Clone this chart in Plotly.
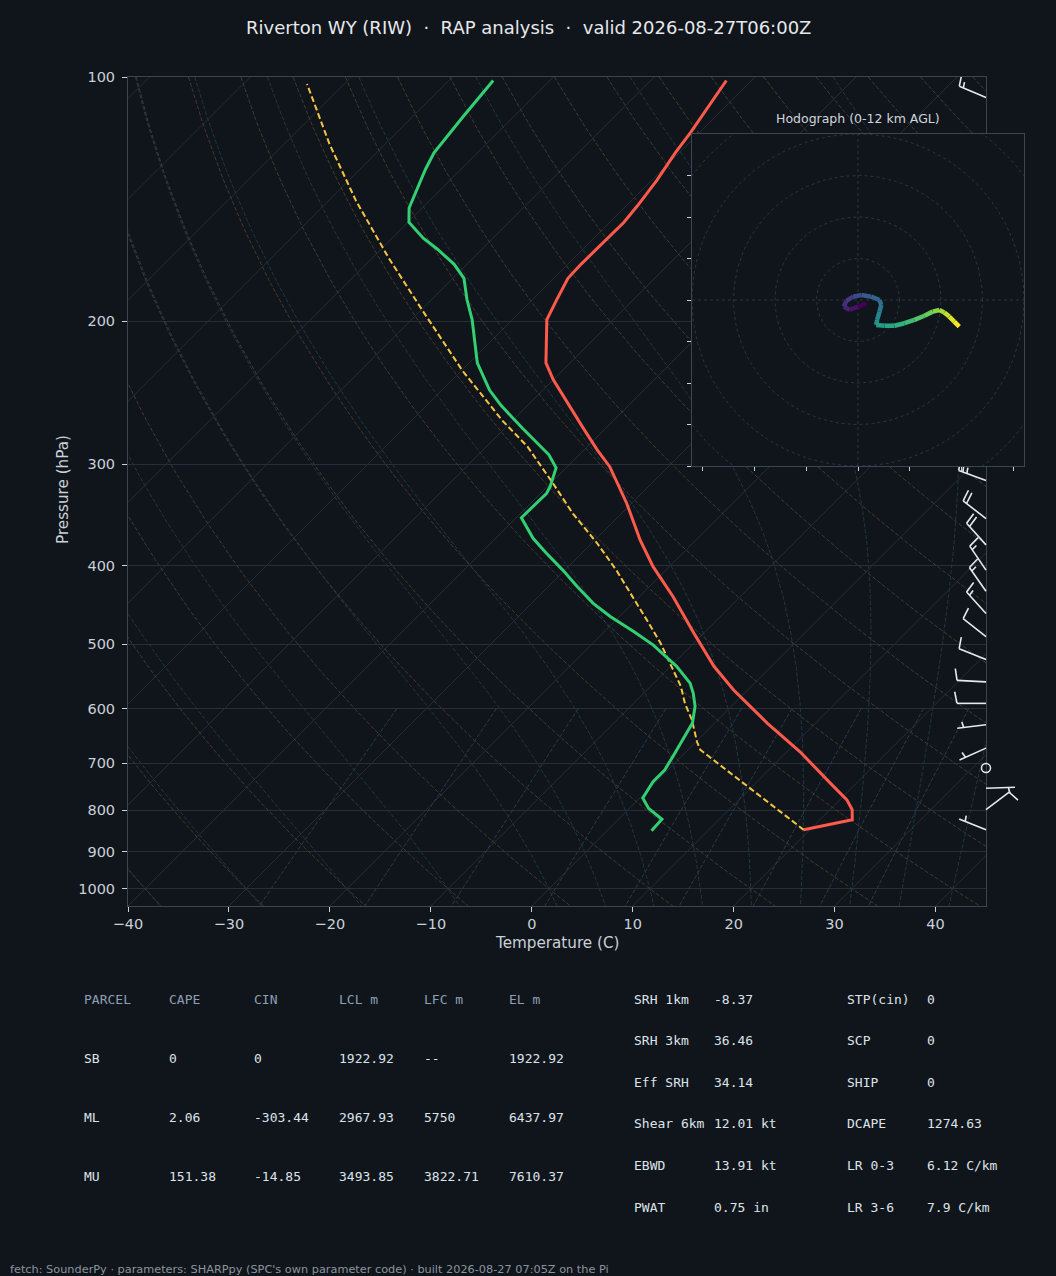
import numpy as np
import plotly.graph_objects as go
from plotly.colors import sample_colorscale

W, H = 1056, 1276
BG = "#10151b"

# ---- sounding (hPa, degC) ----
pres = [846, 822, 799, 777, 741, 678, 625, 569, 532, 484, 437, 401, 372, 335,
        302, 288, 270, 252, 236, 225, 199, 188, 177, 170, 160, 151, 144, 134,
        124, 117, 101]
temp = [19.4, 23.2, 22.2, 20.7, 17.4, 11.3, 5.2, -1.4, -5.7, -11.0, -16.6, -21.6,
        -25.5, -30.5, -35.8, -38.7, -42.4, -46.3, -50.0, -52.4, -56.6, -57.6,
        -58.6, -58.7, -58.6, -58.6, -58.9, -59.5, -60.4, -60.9, -62.5]

dew_pres = [848, 821, 796, 773, 738, 714, 684, 662, 625, 596, 574, 558, 532,
            501, 482, 462, 445, 424, 405, 386, 370, 349, 326, 320, 303, 292,
            271, 254, 243, 225, 199, 188, 177, 170, 163, 158, 151, 145, 138,
            130, 124, 119, 112, 101]
dewp = [4.4, 4.3, 1.9, 0.3, -0.3, -0.3, -0.9, -1.4, -2.2, -3.6, -5.1, -6.4, -9.4,
        -13.8, -17.1, -20.9, -23.9, -27.2, -30.2, -33.5, -36.3, -39.5, -39.4,
        -39.7, -41.0, -43.0, -48.2, -52.6, -55.3, -59.2, -64.0, -66.5, -68.9,
        -71.3, -74.4, -76.9, -79.9, -81.3, -82.3, -83.5, -84.3, -84.6, -85.0, -85.6]

parcel_pres = [846, 674, 659, 619, 591, 563, 527, 498, 466, 437, 405, 375, 345,
               317, 285, 265, 230, 194, 167, 142, 121, 102]
parcel_temp = [19.4, 1.2, 0.1, -2.6, -4.9, -7.0, -10.4, -13.3, -17.0, -20.6,
               -24.9, -29.5, -34.8, -39.7, -46.0, -51.0, -59.9, -69.8, -78.4,
               -87.3, -95.5, -103.7]

# wind barbs (hPa, deg from, kt)
barb_pres = [106, 314, 350, 377, 405, 430, 458, 489, 522, 556, 591, 628, 671,
             710, 752, 799, 846]
barb_dir = [293, 290, 308, 318, 326, 325, 318, 308, 292, 273, 270, 263, 246,
            0, 88, 53, 292]
barb_spd = [15, 25, 20, 20, 15, 15, 15, 10, 10, 10, 10, 5, 5, 0, 5, 10, 5]

# hodograph u/v (0-12 km)
hodo_u = [2.0, 0.0, -2.0, -3.4, -2.8, -1.2, 0.8, 3.2, 5.2, 5.6, 5.2, 4.6, 4.4,
          6.4, 8.8, 11.2, 13.6, 16.0, 18.0, 19.6, 20.8, 22.0, 23.2, 24.4]
hodo_v = [-0.8, -1.6, -2.4, -1.6, -0.2, 0.8, 1.2, 0.8, 0.0, -1.2, -2.8, -4.8,
          -6.0, -6.2, -6.2, -5.6, -4.8, -3.8, -2.8, -2.4, -3.0, -4.0, -5.2, -6.4]

# axis ticks
p_ticks = [100, 200, 300, 400, 500, 600, 700, 800, 900, 1000]
t_ticks = [-40, -30, -20, -10, 0, 10, 20, 30, 40]

# parameter tables
parcel_names = ["SB", "ML", "MU"]
cape = [0, 2.06, 151.38]
cin = [0, -303.44, -14.85]
lcl_m = [1922.92, 2967.93, 3493.85]
lfc_m = [None, 5750, 3822.71]
el_m = [1922.92, 6437.97, 7610.37]

kin_labels = ["SRH 1km", "SRH 3km", "Eff SRH", "Shear 6km", "EBWD", "PWAT"]
kin_values = [-8.37, 36.46, 34.14, 12.01, 13.91, 0.75]
kin_units = ["", "", "", "kt", "kt", "in"]
comp_labels = ["STP(cin)", "SCP", "SHIP", "DCAPE", "LR 0-3", "LR 3-6"]
comp_values = [0, 0, 0, 1274.63, 6.12, 7.9]
comp_units = ["", "", "", "", "C/km", "C/km"]

# ---- geometry ----
PL, PR, PT, PB = 128, 986, 77, 906
T_MIN, T_MAX = -40, 45
P_BOT, P_TOP = 1050, 100
SKEW = (T_MAX - T_MIN) * (PB - PT) / (PR - PL)  # 45 deg on screen
PPD = (PB - PT) / np.log10(P_BOT / P_TOP)  # pixels per decade of pressure
HODO = (692, 1024, 134, 466)
HODO_LIM = 40
BX0, BX1 = 930, 1050

TEMP_C = "#ff5a4b"
DEW_C = "#33cf73"
PARCEL_C = "#f5c542"
ISO_C = "#252d37"
DRY_C = "#463a2b"
MOIST_C = "#1e3841"
MIX_C = "#273c4a"
FRAME_C = "#3b4552"
TEXT_C = "#c9d1d9"
BARB_C = "#e6e9ed"


def skew_x(t, p):
    p = np.asarray(p, float)
    return np.asarray(t, float) + SKEW * np.log10(P_BOT / p) / np.log10(P_BOT / P_TOP)


def joined(curves):
    xs, ys = [], []
    for x, y in curves:
        xs += list(x) + [None]
        ys += list(y) + [None]
    return xs, ys


fig = go.Figure()


def add(x, y, color, width, dash="solid", xa="x", ya="y"):
    fig.add_trace(go.Scatter(x=x, y=y, mode="lines", xaxis=xa, yaxis=ya,
                             line=dict(color=color, width=width, dash=dash),
                             hoverinfo="skip"))


# isotherms
pp = np.array([P_BOT, P_TOP], float)
add(*joined([(skew_x([t, t], pp), pp) for t in range(-130, 50, 10)]), ISO_C, 1)

# dry adiabats
pg = np.logspace(np.log10(P_TOP), np.log10(P_BOT), 80)
dry = []
for th in range(-40, 201, 10):
    t = (th + 273.15) * (pg / 1000.0) ** 0.2857 - 273.15
    dry.append((skew_x(t, pg), pg))
add(*joined(dry), DRY_C, 1, "4px,2px")


# moist adiabats
def dtdp(p, t):
    rd, cp, lv, eps = 287.04, 1005.7, 2.501e6, 0.622
    es = 6.112 * np.exp(17.67 * (t - 273.15) / (t - 29.65))
    rs = eps * es / (p - es)
    return (rd * t + lv * rs) / (cp + lv * lv * rs * eps / (rd * t * t)) / p


def moist(t0):
    out = {}
    for stop, step in ((P_TOP, -5.0), (P_BOT, 5.0)):
        p, t = 1000.0, t0 + 273.15
        out[p] = t
        while (p - stop) * np.sign(step) < 0:
            k1 = dtdp(p, t)
            k2 = dtdp(p + step / 2, t + step / 2 * k1)
            k3 = dtdp(p + step / 2, t + step / 2 * k2)
            k4 = dtdp(p + step, t + step * k3)
            t += step / 6 * (k1 + 2 * k2 + 2 * k3 + k4)
            p += step
            out[p] = t
    ps = np.array(sorted(out))
    return ps, np.array([out[k] for k in ps]) - 273.15


moist_lines = []
for t0 in [-40, -30, -20, -10, 0, 5, 10, 15, 20, 25, 30, 35, 40]:
    ps, ts = moist(t0)
    moist_lines.append((skew_x(ts, ps), ps))
add(*joined(moist_lines), MOIST_C, 1, "4px,2px")

# mixing ratio lines
pm = np.linspace(600, P_BOT, 30)
mix = []
for w in [0.0004, 0.001, 0.002, 0.004, 0.007, 0.01, 0.016, 0.024, 0.032]:
    e = pm * w / (0.622 + w)
    a = np.log(e / 6.112)
    td = 243.5 * a / (17.67 - a)
    mix.append((skew_x(td, pm), pm))
add(*joined(mix), MIX_C, 1, "4px,2px")

# profiles
add(skew_x(parcel_temp, parcel_pres), parcel_pres, PARCEL_C, 2, "6px,3px")
add(skew_x(temp, pres), pres, TEMP_C, 3)
add(skew_x(dewp, dew_pres), dew_pres, DEW_C, 3)

# ---- wind barbs (own overlay axes so they can spill past the frame) ----
BL = 29.0
bx, by = [], []
calm_p = []
for p, d, s in zip(barb_pres, barb_dir, barb_spd):
    if s == 0:
        calm_p.append(p)
        continue
    r = np.radians(d)
    ux, uy = np.sin(r), -np.cos(r)
    nx, ny = np.cos(r), np.sin(r)
    tip = (ux * BL, uy * BL)
    segs = [((0.0, 0.0), tip)]
    full, half = divmod(int(round(s / 5.0)), 2)
    sp = 0.15 * BL
    off = 0.0
    for i in range(full):
        st = (tip[0] - off * ux, tip[1] - off * uy)
        segs.append((st, (st[0] + 0.4 * BL * nx + 0.08 * BL * ux,
                          st[1] + 0.4 * BL * ny + 0.08 * BL * uy)))
        off += sp
    if half:
        if full == 0:
            off = 1.5 * sp
        st = (tip[0] - off * ux, tip[1] - off * uy)
        segs.append((st, (st[0] + 0.2 * BL * nx + 0.04 * BL * ux,
                          st[1] + 0.2 * BL * ny + 0.04 * BL * uy)))
    for a, b in segs:
        bx += [PR + a[0], PR + b[0], None]
        by += [p * 10 ** (a[1] / PPD), p * 10 ** (b[1] / PPD), None]

add(bx, by, BARB_C, 1.6, xa="x2", ya="y2")
fig.add_trace(go.Scatter(x=[PR] * len(calm_p), y=calm_p, mode="markers",
                         xaxis="x2", yaxis="y2", hoverinfo="skip",
                         marker=dict(symbol="circle-open", size=9, color=BARB_C,
                                     line=dict(color=BARB_C, width=1.5))))

# ---- hodograph inset ----
L = HODO_LIM
fig.add_trace(go.Scatter(x=[-L, L, L, -L, -L], y=[-L, -L, L, L, -L], fill="toself",
                         fillcolor=BG, mode="lines", line=dict(width=0),
                         xaxis="x3", yaxis="y3", hoverinfo="skip"))
th = np.linspace(0, 2 * np.pi, 200)
add(*joined([(r * np.cos(th), r * np.sin(th)) for r in (10, 20, 30, 40, 50)]),
    "#2c3440", 1, "3px,3px", "x3", "y3")
add([-L, L, None, 0, 0], [0, 0, None, -L, L], "#2c3440", 1, "3px,3px", "x3", "y3")
n = len(hodo_u)
cols = sample_colorscale("Viridis", [i / (n - 2) for i in range(n - 1)])
for i in range(n - 1):
    add(hodo_u[i:i + 2], hodo_v[i:i + 2], cols[i], 4.5, xa="x3", ya="y3")

# ---- layout ----
tick_font = dict(family="DejaVu Sans", size=14.5, color=TEXT_C)
frame = dict(showline=True, linecolor=FRAME_C, linewidth=1, mirror=True,
             zeroline=False, automargin=False)
fig.update_layout(
    width=W, height=H, autosize=False,
    margin=dict(l=0, r=0, t=0, b=0, pad=0, autoexpand=False),
    paper_bgcolor=BG, plot_bgcolor="rgba(0,0,0,0)", showlegend=False,
    xaxis=dict(domain=[PL / W, PR / W], range=[T_MIN, T_MAX], anchor="y",
               tickvals=t_ticks,
               ticktext=[str(t).replace("-", "\u2212") for t in t_ticks],
               ticks="outside", ticklen=5, tickcolor=TEXT_C, tickfont=tick_font,
               showgrid=False, **frame),
    yaxis=dict(domain=[1 - PB / H, 1 - PT / H], type="log", anchor="x",
               range=[np.log10(P_BOT), np.log10(P_TOP)],
               tickvals=p_ticks, ticktext=[str(p) for p in p_ticks],
               ticks="outside", ticklen=5, tickcolor=TEXT_C, tickfont=tick_font,
               ticklabelstandoff=4,
               showgrid=True, gridcolor="#262e38", gridwidth=1, **frame),
    xaxis2=dict(domain=[BX0 / W, BX1 / W], range=[BX0, BX1], anchor="y2",
                visible=False, automargin=False),
    yaxis2=dict(domain=[1 - PB / H, 1 - PT / H], type="log", anchor="x2",
                range=[np.log10(P_BOT), np.log10(P_TOP)], visible=False,
                automargin=False),
    xaxis3=dict(domain=[HODO[0] / W, HODO[1] / W], range=[-L, L], anchor="y3",
                tickvals=[-37.5, -25, -12.5, 0, 12.5, 25, 37.5],
                showticklabels=False, ticks="outside", ticklen=4,
                tickcolor=TEXT_C, showgrid=False, **frame),
    yaxis3=dict(domain=[1 - HODO[3] / H, 1 - HODO[2] / H], range=[-L, L],
                anchor="x3", tickvals=list(range(-40, 40, 10)),
                showticklabels=False, ticks="outside", ticklen=4,
                tickcolor=TEXT_C, showgrid=False, **frame),
)


def note(text, x, y, size=13, color="#dde3ea", family="DejaVu Sans Mono",
         xanchor="left", angle=0):
    fig.add_annotation(text=text, x=x / W, y=1 - y / H, xref="paper", yref="paper",
                       showarrow=False, xanchor=xanchor, yanchor="middle",
                       textangle=angle, borderpad=0,
                       font=dict(family=family, size=size, color=color))


note("Riverton WY (RIW)  \u00b7  RAP analysis  \u00b7  valid 2026-08-27T06:00Z",
     528, 27, 18, "#e6e8eb", "DejaVu Sans", "center")
note("Temperature (C)", 557, 943, 15.2, TEXT_C, "DejaVu Sans", "center")
note("Pressure (hPa)", 63, 490, 15.2, TEXT_C, "DejaVu Sans", "center", -90)
note("Hodograph (0-12 km AGL)", 858, 119, 12.5, "#d0d5db", "DejaVu Sans", "center")


def fmt(v):
    return "--" if v is None else f"{v:g}"


col_x = [83, 168, 253, 338, 423, 508]
for x, h in zip(col_x, ["PARCEL", "CAPE", "CIN", "LCL m", "LFC m", "EL m"]):
    note(h, x, 999, color="#8d9fb4")
for i, name in enumerate(parcel_names):
    y = 1058 + 59 * i
    row = [name, fmt(cape[i]), fmt(cin[i]), fmt(lcl_m[i]), fmt(lfc_m[i]), fmt(el_m[i])]
    for x, v in zip(col_x, row):
        note(v, x, y)

for i in range(len(kin_labels)):
    y = 999 + 41.6 * i
    note(kin_labels[i], 633, y)
    note((fmt(kin_values[i]) + " " + kin_units[i]).strip(), 713, y)
    note(comp_labels[i], 846, y)
    note((fmt(comp_values[i]) + " " + comp_units[i]).strip(), 926, y)

note("fetch: SounderPy \u00b7 parameters: SHARPpy (SPC's own parameter code) \u00b7 "
     "built 2026-08-27 07:05Z on the Pi", 9, 1269, 11.3, "#8b949e", "DejaVu Sans")

fig.write_html("out.html", config={"displayModeBar": False},
               post_script="document.body.style.margin='0';"
                           "document.body.style.overflow='hidden';"
                           f"document.body.style.background='{BG}';")
